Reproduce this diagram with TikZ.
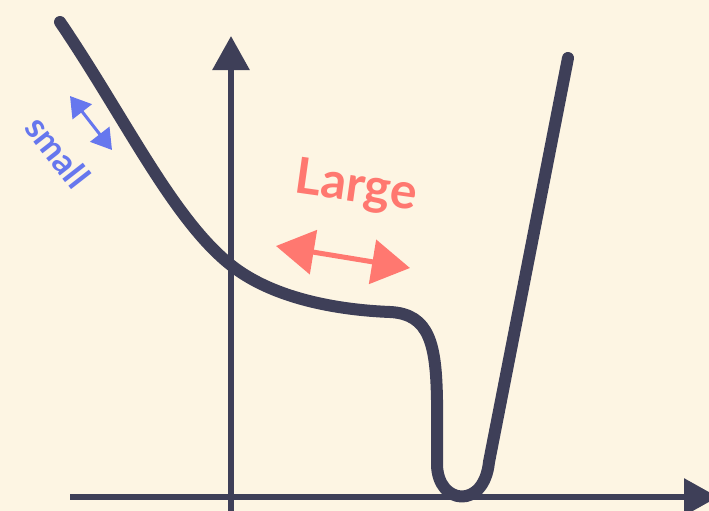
\documentclass[tikz,border=0pt]{standalone}
\usepackage{fontspec}
\setmainfont{Lato}
\usetikzlibrary{arrows.meta,decorations.pathmorphing}
\definecolor{bg}{HTML}{FDF5E3}
\definecolor{ink}{HTML}{3E3F58}
\definecolor{salmon}{HTML}{FF7870}
\definecolor{bluish}{HTML}{6677EE}
\tikzset{
  axis/.style={ink, line width=6pt, -{Triangle[length=34pt,width=36pt]}},
  curve/.style={ink, line width=12pt, line cap=round, line join=round},
  bigarrow/.style={salmon, line width=5pt, {Triangle[length=38pt,width=44pt]}-{Triangle[length=38pt,width=44pt]}},
  smallarrow/.style={bluish, line width=3pt, {Triangle[length=20pt,width=24pt]}-{Triangle[length=20pt,width=24pt]}},
}
\begin{document}
\begin{tikzpicture}[x=1pt,y=-1pt]
\fill[bg] (0,0) rectangle (709,511);
\useasboundingbox (0,0) rectangle (709,511);
% axes
\coordinate (xs) at (70,497);
\coordinate (xe) at (718,497);
\coordinate (ys) at (231,515);
\coordinate (ye) at (231,36);
\draw[axis] (xs) -- (xe);
\draw[axis] (ys) -- (ye);
% curve
\draw[curve] (60,22) .. controls (130,125) and (180,235) .. (245,275)
  .. controls (285,300) and (340,310) .. (390,312)
  .. controls (430,314) and (436,345) .. (437,400)
  -- (437,465) .. controls (438,505) and (484,510) .. (489,462)
  -- (568,58);
% large
\node[salmon, font=\fontsize{50}{54}\selectfont\bfseries, rotate=-8] (large) at (356,188) {Large};
\coordinate (la) at (276,246);
\coordinate (lb) at (410,268);
\draw[bigarrow] (la) -- (lb);
% small
\node[bluish, font=\fontsize{35}{38}\selectfont\bfseries, rotate=-52] (small) at (58,152) {small};
\coordinate (sa) at (70,96);
\coordinate (sb) at (112,150);
\draw[smallarrow] (sa) -- (sb);
\end{tikzpicture}
\end{document}
